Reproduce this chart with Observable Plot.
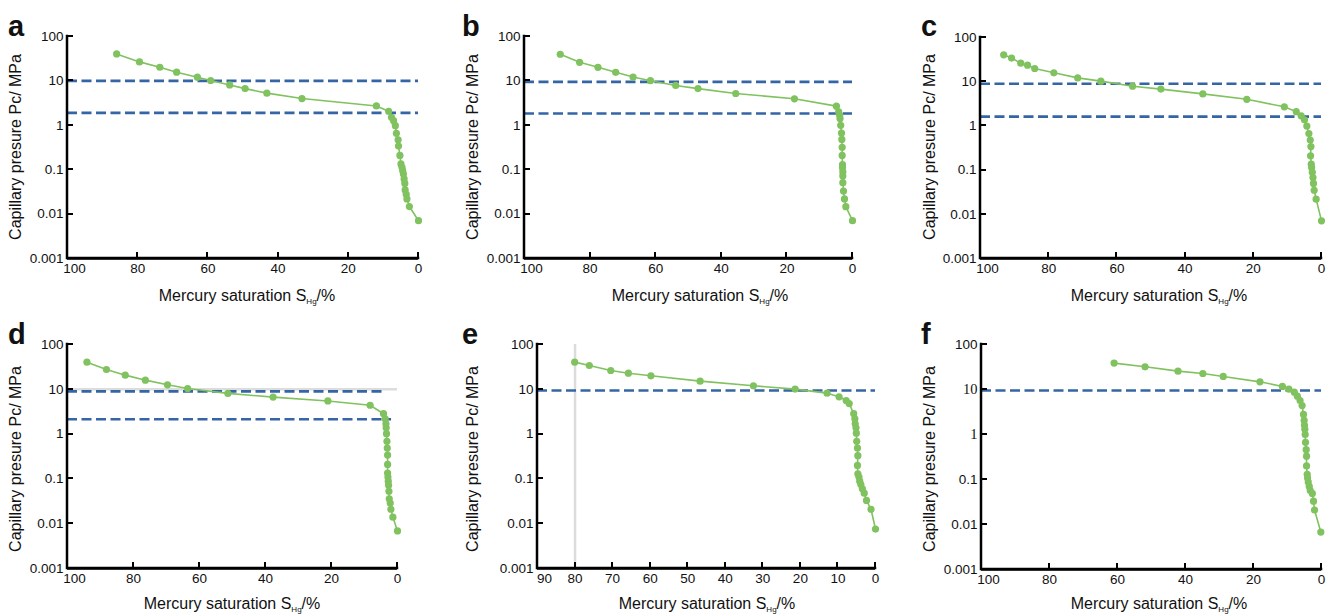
<!DOCTYPE html>
<html>
<head>
<meta charset="utf-8">
<script src="https://cdn.jsdelivr.net/npm/d3@7"></script>
<script src="https://cdn.jsdelivr.net/npm/@observablehq/plot@0.6"></script>
<style>
  html, body { margin: 0; padding: 0; background: #fff; }
  #root { position: relative; width: 1338px; height: 616px; font-family: "Liberation Sans", Arial, sans-serif; color: #111; }
  .letter { position: absolute; font-weight: bold; font-size: 29px; line-height: 1; }
  .ytitle { position: absolute; font-size: 16px; white-space: nowrap; transform: translate(-50%, -50%) rotate(-90deg); }
  .xtitle { position: absolute; font-size: 16px; white-space: nowrap; transform: translate(-50%, -50%); }
  .xtitle sub { font-size: 8px; vertical-align: -3px; }
  .ink { position: absolute; background: #000; z-index: 10; }
</style>
</head>
<body>
<div id="root"></div>
<script>
// ---------- data ----------
const panelLetters = ["a", "b", "c", "d", "e", "f"];
const yTicks = [0.001, 0.01, 0.1, 1, 10, 100];
const yTickLabels = ["0.001", "0.01", "0.1", "1", "10", "100"];
const xTicks100 = [100, 80, 60, 40, 20, 0];
const xTicks90 = [90, 80, 70, 60, 50, 40, 30, 20, 10, 0];
const yTitle = "Capillary presure Pc/ MPa";
const xTitleMain = "Mercury saturation S";
const xTitleSub = "Hg";
const xTitleEnd = "/%";

const aS = [86.0,79.5,73.7,68.9,63.0,59.2,53.8,49.4,43.2,33.2,12.0,8.5,7.7,7.1,6.6,6.3,5.8,5.7,5.3,5.0,4.7,4.5,4.3,4.1,3.9,3.8,3.5,3.3,2.6,0];
const aPc = [40.6,26.8,20.3,15.7,12.1,10.2,8.1,6.7,5.3,4.0,2.73,2.07,1.51,1.27,0.98,0.66,0.47,0.34,0.21,0.135,0.113,0.095,0.080,0.062,0.049,0.035,0.028,0.022,0.0148,0.0071];
const aThresh = [10, 1.9];
const aThreshEnd = [0, 0];

const bS = [89.1,83.2,77.6,72.2,66.9,61.6,53.9,47.1,35.6,17.7,4.9,4.2,3.9,3.8,3.6,3.35,3.25,3.15,3.15,3.05,3.05,2.95,2.95,2.95,2.74,2.44,2.03,0];
const bPc = [39.8,26.2,20.2,15.6,12.2,10.1,7.9,6.7,5.2,3.95,2.7,2.0,1.69,1.42,1.0,0.67,0.48,0.32,0.21,0.13,0.11,0.089,0.072,0.051,0.033,0.022,0.0147,0.0071];
const bThresh = [9.5, 1.85];
const bThreshEnd = [0, 0];

const cS = [93.2,90.9,88.2,86.2,84.1,78.5,71.5,64.7,55.4,47.1,34.8,21.9,10.9,7.4,5.97,4.99,4.3,3.7,3.3,3.1,3.2,3.0,2.9,2.7,2.5,2.35,2.15,1.57,0];
const cPc = [40.6,34.3,26.2,23.7,19.9,15.9,12.2,10.3,7.9,6.8,5.3,4.0,2.7,2.1,1.69,1.37,0.99,0.67,0.48,0.34,0.21,0.136,0.114,0.089,0.068,0.050,0.035,0.022,0.0071];
const cThresh = [9.0, 1.62];
const cThreshEnd = [0, 0];

const dS = [94.1,88.2,82.5,76.4,69.7,63.6,51.4,37.7,21.1,8.3,4.24,3.74,3.5,3.43,3.33,3.2,3.1,3.0,3.0,3.0,2.9,2.8,2.7,2.6,2.5,2.2,2.0,1.4,0];
const dPc = [40.4,27.7,20.7,16.0,12.6,10.4,8.1,6.7,5.5,4.4,2.85,2.2,1.70,1.38,1.02,0.69,0.49,0.34,0.21,0.135,0.11,0.089,0.072,0.053,0.036,0.029,0.021,0.014,0.0069];
const dThresh = [9.0, 2.15];
const dThreshEnd = [3.5, 1.8];
const dGrayY = [10];

const eS = [80.1,76.2,70.5,65.8,59.8,46.7,32.5,21.4,12.9,9.7,7.8,7.0,5.8,5.5,5.4,5.2,5.1,5.0,4.8,4.7,4.8,4.7,4.4,4.2,3.9,3.5,3.0,2.4,1.2,0];
const ePc = [40.4,34.0,26.3,22.9,20.0,15.2,12.0,10.1,8.2,6.8,5.6,4.8,2.85,2.2,1.70,1.38,1.05,0.69,0.49,0.33,0.20,0.13,0.11,0.089,0.075,0.060,0.048,0.033,0.021,0.0076];
const eThresh = [9.4];
const eThreshEnd = [0];
const eGrayX = [80];

const fS = [61.0,51.9,42.2,34.9,28.9,18.1,11.5,9.6,8.0,7.1,6.3,5.7,5.3,5.1,5.0,4.9,4.8,4.7,4.5,4.4,4.4,4.2,4.1,3.9,3.6,3.3,2.7,2.35,2.05,0.2];
const fPc = [38.6,31.9,25.6,22.7,19.5,14.8,11.7,10.2,8.7,7.1,5.7,4.4,2.8,2.06,1.6,1.3,1.0,0.67,0.46,0.33,0.20,0.13,0.108,0.088,0.070,0.057,0.049,0.033,0.021,0.0068];
const fThresh = [9.5];
const fThreshEnd = [0];
const fSerifYTicks = [10, 1];

// ---------- layout / style ----------
const GREEN = "#80c25f";
const BLUE = "#3465a4";
const GRAY = "#dcdcdc";
const INK = "black";
const panels = [
  {S: aS, Pc: aPc, th: aThresh, thEnd: aThreshEnd, xTicks: xTicks100, box: [0, 0, 440, 300, 67, 22, 36, 42], letter: [8, 12], yt: [16, 147], xt: [247, 296]},
  {S: bS, Pc: bPc, th: bThresh, thEnd: bThreshEnd, xTicks: xTicks100, box: [440, 0, 440, 300, 84, 28, 36, 42], letter: [462, 12], yt: [473, 147], xt: [700, 296]},
  {S: cS, Pc: cPc, th: cThresh, thEnd: cThreshEnd, xTicks: xTicks100, box: [880, 0, 458, 300, 100, 17, 37, 42], letter: [921, 12], yt: [930, 147], xt: [1159, 296]},
  {S: dS, Pc: dPc, th: dThresh, thEnd: dThreshEnd, xTicks: xTicks100, box: [0, 310, 440, 306, 67, 43, 34, 48], letter: [8, 320], yt: [16, 459], xt: [232, 604], grayY: dGrayY},
  {S: eS, Pc: ePc, th: eThresh, thEnd: eThreshEnd, xTicks: xTicks90, box: [440, 310, 440, 306, 97, 5, 34, 48], letter: [462, 320], yt: [473, 459], xt: [707, 604], grayX: eGrayX},
  {S: fS, Pc: fPc, th: fThresh, thEnd: fThreshEnd, xTicks: xTicks100, box: [880, 310, 458, 306, 101, 17, 34, 47], letter: [921, 320], yt: [930, 459], xt: [1159, 604], serifY: fSerifYTicks}
];

const root = document.getElementById("root");
const fmtY = d => yTickLabels[yTicks.indexOf(d)];

panels.forEach((p, i) => {
  const letter = document.createElement("div");
  letter.className = "letter";
  letter.textContent = panelLetters[i];
  letter.style.left = p.letter[0] + "px";
  letter.style.top = p.letter[1] + "px";
  root.appendChild(letter);

  const yt = document.createElement("div");
  yt.className = "ytitle";
  yt.textContent = yTitle;
  yt.style.left = p.yt[0] + "px";
  yt.style.top = p.yt[1] + "px";
  root.appendChild(yt);

  const xt = document.createElement("div");
  xt.className = "xtitle";
  xt.style.left = p.xt[0] + "px";
  xt.style.top = p.xt[1] + "px";
  xt.append(xTitleMain);
  const sub = document.createElement("sub");
  sub.textContent = xTitleSub;
  xt.append(sub);
  xt.append(xTitleEnd);
  root.appendChild(xt);
});

const inkBoxes = [];
function ink(l, t, w, h) { inkBoxes.push([l, t, w, h]); }

panels.forEach((p, i) => {
  const [left, top, W, H, mL, mR, mT, mB] = p.box;
  const xMax = p.xTicks[0];
  const xMin = p.xTicks[p.xTicks.length - 1];
  const yMin = yTicks[0], yMax = yTicks[yTicks.length - 1];
  const pts = p.S.map((s, k) => ({s, pc: p.Pc[k]}));
  const th = p.th.map((v, k) => ({v, x1: xMax, x2: p.thEnd[k]}));
  const serif = p.serifY || [];
  const sansY = yTicks.filter(t => !serif.includes(t));
  const marks = [];
  if (p.grayY) marks.push(Plot.ruleY(p.grayY, {x1: xMax, x2: xMin, stroke: GRAY, strokeWidth: 2.5}));
  if (p.grayX) marks.push(Plot.ruleX(p.grayX, {stroke: GRAY, strokeWidth: 2.5}));
  marks.push(
    Plot.ruleY(th, {y: "v", x1: "x1", x2: "x2", stroke: BLUE, strokeWidth: 2.6, strokeDasharray: "10,4.5"}),
    Plot.line(pts, {x: "s", y: "pc", stroke: GREEN, strokeWidth: 1.6}),
    Plot.dot(pts, {x: "s", y: "pc", r: 3.6, fill: GREEN, stroke: "none"}),
    Plot.ruleY([yMin], {stroke: INK, strokeWidth: 2.5}),
    Plot.axisY(sansY, {tickSize: 0, tickPadding: 4, tickFormat: fmtY, fontSize: 13.5}),
    Plot.axisX([p.xTicks[0]], {tickSize: 0, tickPadding: 5, dx: 7, fontSize: 13.5}),
    Plot.axisX(p.xTicks.slice(1), {tickSize: 0, tickPadding: 5, fontSize: 13.5})
  );
  if (serif.length) marks.push(Plot.axisY(serif, {tickSize: 0, tickPadding: 4, tickFormat: fmtY, fontSize: 14.5, fontFamily: "Liberation Serif, Times New Roman, serif"}));

  const chart = Plot.plot({
    width: W, height: H,
    marginLeft: mL, marginRight: mR, marginTop: mT, marginBottom: mB,
    x: {domain: [xMax, xMin], label: null},
    y: {type: "log", domain: [yMin, yMax], label: null},
    style: {fontFamily: "Liberation Sans, Arial, sans-serif", fontSize: "13px", color: "#111", background: "transparent", overflow: "visible"},
    marks
  });

  const sx = chart.scale("x"), sy = chart.scale("y");
  const X0 = sx.apply(xMax), X1 = sx.apply(xMin);
  const Y0 = sy.apply(yMin), Y1 = sy.apply(yMax);
  const g = d3.select(chart).append("g").attr("fill", "none").attr("stroke", INK);
  g.append("path").attr("d", `M${X0},${Y1}L${X0},${Y0}L${X1},${Y0}`)
    .attr("stroke-width", 2.5).attr("stroke-linecap", "square");

  // axis frame and inward ticks as overlay boxes, placed through Plot's scales
  ink(left + X0 - 1.25, top + Y1 - 1.25, 2.5, Y0 - Y1 + 2.5);
  ink(left + X0 - 1.25, top + Y0 - 1.25, X1 - X0 + 2.5, 2.5);
  yTicks.forEach(t => ink(left + X0, top + sy.apply(t) - 1, 6, 2));
  p.xTicks.forEach(t => ink(left + sx.apply(t) - 1, top + Y0 - 6, 2, 6));

  const holder = document.createElement("div");
  holder.style.position = "absolute";
  holder.style.left = left + "px";
  holder.style.top = top + "px";
  holder.appendChild(chart);
  root.appendChild(holder);
});

inkBoxes.forEach(([l, t, w, h]) => {
  const d = document.createElement("div");
  d.className = "ink";
  d.style.left = l + "px";
  d.style.top = t + "px";
  d.style.width = w + "px";
  d.style.height = h + "px";
  root.appendChild(d);
});
</script>
</body>
</html>
